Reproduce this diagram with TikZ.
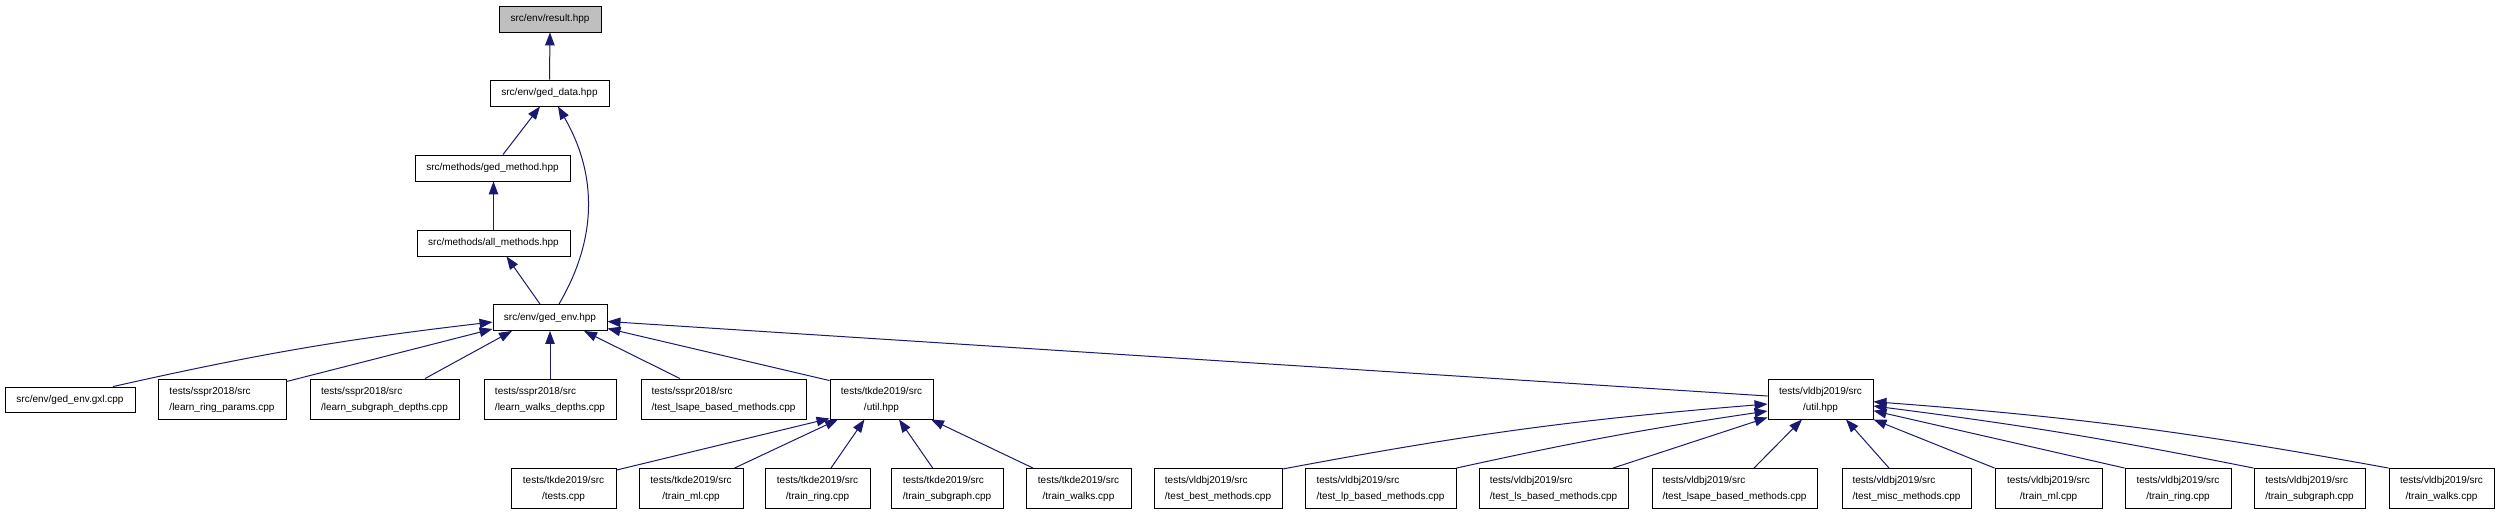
\documentclass[tikz,border=0pt]{standalone}
\usepackage{fontspec}
\setmainfont{Liberation Sans}
\usetikzlibrary{arrows.meta}
\definecolor{edgec}{HTML}{191970}
\definecolor{rootfill}{HTML}{BFBFBF}
\newcommand{\twoline}[2]{\begin{tabular}{@{}l@{}}#1\\\multicolumn{1}{@{}c@{}}{#2}\end{tabular}}
\begin{document}
\begin{tikzpicture}[x=1pt,y=-1pt,
  bx/.style 2 args={draw=black, line width=0.9pt, fill=white, inner sep=0pt,
    font=\fontsize{10pt}{16pt}\selectfont, minimum width=#1pt, minimum height=#2pt},
  edge/.style={draw=edgec, line width=1pt, -{Triangle[length=13pt,width=9.5pt]}}]
\path[fill=white,use as bounding box] (0,0) rectangle (2500,515);

% top chain
\node[bx={102}{26}, fill=rootfill] (res) at (550,19) {src/env/result.hpp};
\node[bx={119}{26}] (gd) at (549.5,93) {src/env/ged\_data.hpp};
\node[bx={155}{26}] (gm) at (492.5,168) {src/methods/ged\_method.hpp};
\node[bx={153}{26}] (am) at (493.5,243) {src/methods/all\_methods.hpp};
\node[bx={114}{26}] (ge) at (550,317.5) {src/env/ged\_env.hpp};

% middle row
\node[bx={130}{25}] (gxl) at (70,399.5) {src/env/ged\_env.gxl.cpp};
\node[bx={128}{40}] (lrp) at (222,399) {\twoline{tests/sspr2018/src}{/learn\_ring\_params.cpp}};
\node[bx={149}{40}] (lsd) at (384.5,399) {\twoline{tests/sspr2018/src}{/learn\_subgraph\_depths.cpp}};
\node[bx={132}{40}] (lwd) at (550,399) {\twoline{tests/sspr2018/src}{/learn\_walks\_depths.cpp}};
\node[bx={165}{40}] (stl) at (723.5,399) {\twoline{tests/sspr2018/src}{/test\_lsape\_based\_methods.cpp}};
\node[bx={103}{40}] (tu) at (881.5,399) {\twoline{tests/tkde2019/src}{/util.hpp}};
\node[bx={105}{40}] (vu) at (1820.5,399) {\twoline{tests/vldbj2019/src}{/util.hpp}};

% bottom row tkde
\node[bx={105}{40}] (tt) at (563.5,488.5) {\twoline{tests/tkde2019/src}{/tests.cpp}};
\node[bx={104}{40}] (tml) at (691,488.5) {\twoline{tests/tkde2019/src}{/train\_ml.cpp}};
\node[bx={105}{40}] (trg) at (817.5,488.5) {\twoline{tests/tkde2019/src}{/train\_ring.cpp}};
\node[bx={112}{40}] (tsg) at (947,488.5) {\twoline{tests/tkde2019/src}{/train\_subgraph.cpp}};
\node[bx={105}{40}] (twk) at (1078.5,488.5) {\twoline{tests/tkde2019/src}{/train\_walks.cpp}};

% bottom row vldbj
\node[bx={128}{40}] (vbm) at (1218,488.5) {\twoline{tests/vldbj2019/src}{/test\_best\_methods.cpp}};
\node[bx={151}{40}] (vlp) at (1380.5,488.5) {\twoline{tests/vldbj2019/src}{/test\_lp\_based\_methods.cpp}};
\node[bx={149}{40}] (vls) at (1553.5,488.5) {\twoline{tests/vldbj2019/src}{/test\_ls\_based\_methods.cpp}};
\node[bx={165}{40}] (vla) at (1734.5,488.5) {\twoline{tests/vldbj2019/src}{/test\_lsape\_based\_methods.cpp}};
\node[bx={129}{40}] (vmi) at (1906.5,488.5) {\twoline{tests/vldbj2019/src}{/test\_misc\_methods.cpp}};
\node[bx={107}{40}] (vml) at (2048.5,488.5) {\twoline{tests/vldbj2019/src}{/train\_ml.cpp}};
\node[bx={106}{40}] (vrg) at (2178,488.5) {\twoline{tests/vldbj2019/src}{/train\_ring.cpp}};
\node[bx={111}{40}] (vsg) at (2309.5,488.5) {\twoline{tests/vldbj2019/src}{/train\_subgraph.cpp}};
\node[bx={105}{40}] (vwk) at (2441.5,488.5) {\twoline{tests/vldbj2019/src}{/train\_walks.cpp}};

% edges: top chain
\draw[edge] (gd.north) -- (res.south);
\draw[edge] ([xshift=10.5pt]gm.north) -- ([xshift=-9.5pt]gd.south);
\draw[edge] ([xshift=9pt]ge.north) .. controls +(41,-70) and +(37,64) .. ([xshift=8.5pt]gd.south);
\draw[edge] (am.north) -- (am.north |- gm.south);
\draw[edge] ([xshift=-10pt]ge.north) -- ([xshift=13pt]am.south);

% edges into ged_env
\draw[edge] ([xshift=43pt]gxl.north) to[bend left=3] ([yshift=-4.5pt]ge.west);
\draw[edge] ([yshift=-3pt]lrp.north east) -- ([yshift=2pt]ge.south west);
\draw[edge] ([xshift=40.5pt]lsd.north) -- ([xshift=-38pt]ge.south);
\draw[edge] (lwd.north) -- (ge.south);
\draw[edge] ([xshift=-43.5pt]stl.north) -- ([xshift=34pt]ge.south);
\draw[edge] ([yshift=-2pt]tu.north west) -- ([yshift=2.5pt]ge.south east);
\draw[edge] ([yshift=3pt]vu.west) -- ([yshift=-4pt]ge.east);

% edges into tkde util
\draw[edge] ([yshift=-2pt]tt.north east) -- ([yshift=1pt]tu.south west);
\draw[edge] ([xshift=43.5pt]tml.north) -- ([xshift=-43.5pt]tu.south);
\draw[edge] ([xshift=13.5pt]trg.north) -- ([xshift=-17pt]tu.south);
\draw[edge] ([xshift=-14.3pt]tsg.north) -- ([xshift=17.5pt]tu.south);
\draw[edge] ([xshift=-45.5pt]twk.north) -- ([xshift=49.5pt]tu.south);

% edges into vldbj util
\draw[edge] ([yshift=-1pt]vbm.north east) to[bend left=3] ([yshift=-5pt]vu.west);
\draw[edge] (vlp.north east) to[bend left=2] ([yshift=-12pt]vu.west);
\draw[edge] ([xshift=59.5pt]vls.north) -- ([yshift=2pt]vu.south west);
\draw[edge] ([xshift=19.5pt]vla.north) -- ([xshift=-18.5pt]vu.south);
\draw[edge] ([xshift=-17.5pt]vmi.north) -- ([xshift=25.5pt]vu.south);
\draw[edge] (vml.north west) -- (vu.south east);
\draw[edge] (vrg.north west) -- ([yshift=-11.7pt]vu.east);
\draw[edge] (vsg.north west) to[bend right=2] ([yshift=-7pt]vu.east);
\draw[edge] (vwk.north west) to[bend right=3] ([yshift=-2.7pt]vu.east);
\end{tikzpicture}
\end{document}
